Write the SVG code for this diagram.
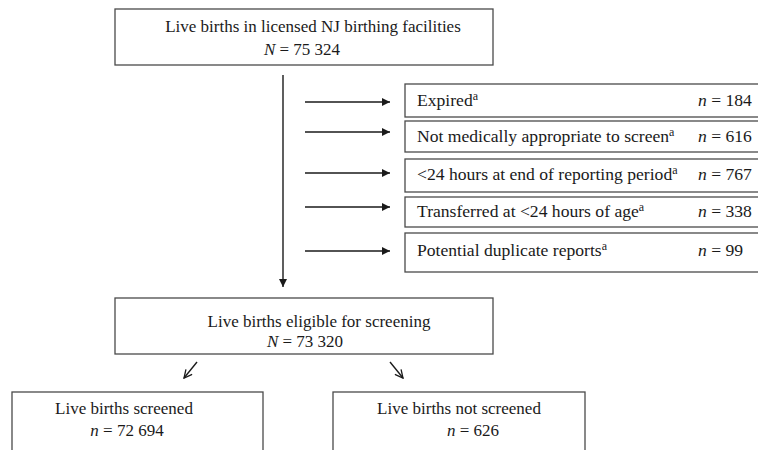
<svg xmlns="http://www.w3.org/2000/svg" width="758" height="450" viewBox="0 0 758 450">
<defs>
<style>
.box{fill:#fff;stroke:#4a4a4a;stroke-width:1.3}
.t{font-family:"Liberation Serif","Times New Roman",serif;font-size:17px;fill:#1a1a1a}
.r{font-size:17.6px}
.c{text-anchor:middle}
.sup{font-size:12px}
.ln{stroke:#1a1a1a;stroke-width:1.4;fill:none}
</style>
<marker id="ah" viewBox="0 0 10 10" refX="10" refY="5" markerWidth="8" markerHeight="8" markerUnits="userSpaceOnUse" orient="auto">
<path d="M0,0 L10,5 L0,10 z" fill="#1a1a1a"/>
</marker>
<marker id="oh" viewBox="0 0 10 10" refX="9" refY="5" markerWidth="10" markerHeight="10" markerUnits="userSpaceOnUse" orient="auto">
<path d="M1,1 L9,5 L1,9" fill="none" stroke="#1a1a1a" stroke-width="1.3"/>
</marker>
</defs>
<rect width="758" height="450" fill="#fff"/>
<g id="top">
<rect class="box" x="115" y="9" width="378" height="56"/>
<text class="t c" x="313" y="32">Live births in licensed NJ birthing facilities</text>
<text class="t c" x="302" y="55"><tspan font-style="italic">N</tspan> = 75 324</text>
</g>
<g id="expired">
<rect class="box" x="405" y="84" width="365" height="33"/>
<text class="t r" x="417" y="106">Expired<tspan class="sup" dy="-6">a</tspan></text>
<text class="t r" x="698" y="106"><tspan font-style="italic">n</tspan> = 184</text>
</g>
<g id="notmed">
<rect class="box" x="405" y="121" width="365" height="31"/>
<text class="t r" x="417" y="142">Not medically appropriate to screen<tspan class="sup" dy="-6">a</tspan></text>
<text class="t r" x="698" y="142"><tspan font-style="italic">n</tspan> = 616</text>
</g>
<g id="lt24">
<rect class="box" x="405" y="159" width="365" height="33"/>
<text class="t r" x="417" y="180">&lt;24 hours at end of reporting period<tspan class="sup" dy="-6">a</tspan></text>
<text class="t r" x="698" y="180"><tspan font-style="italic">n</tspan> = 767</text>
</g>
<g id="transferred">
<rect class="box" x="405" y="197" width="365" height="30"/>
<text class="t r" x="417" y="217">Transferred at &lt;24 hours of age<tspan class="sup" dy="-6">a</tspan></text>
<text class="t r" x="698" y="217"><tspan font-style="italic">n</tspan> = 338</text>
</g>
<g id="duplicate">
<rect class="box" x="405" y="233" width="365" height="39"/>
<text class="t r" x="417" y="256">Potential duplicate reports<tspan class="sup" dy="-6">a</tspan></text>
<text class="t r" x="698" y="256"><tspan font-style="italic">n</tspan> = 99</text>
</g>
<g id="eligible">
<rect class="box" x="115" y="298" width="378" height="56"/>
<text class="t c" x="319" y="327">Live births eligible for screening</text>
<text class="t c" x="305" y="347"><tspan font-style="italic">N</tspan> = 73 320</text>
</g>
<g id="screened">
<rect class="box" x="12" y="392" width="251" height="70"/>
<text class="t c" x="124" y="414">Live births screened</text>
<text class="t c" x="127" y="436"><tspan font-style="italic">n</tspan> = 72 694</text>
</g>
<g id="notscreened">
<rect class="box" x="333" y="392" width="252" height="70"/>
<text class="t c" x="459" y="414">Live births not screened</text>
<text class="t c" x="473" y="436"><tspan font-style="italic">n</tspan> = 626</text>
</g>
<g id="connectors">
<line class="ln" x1="283" y1="75" x2="283" y2="287" marker-end="url(#ah)"/>
<line class="ln" x1="305" y1="102" x2="390" y2="102" marker-end="url(#ah)"/>
<line class="ln" x1="305" y1="132" x2="390" y2="132" marker-end="url(#ah)"/>
<line class="ln" x1="305" y1="173" x2="390" y2="173" marker-end="url(#ah)"/>
<line class="ln" x1="305" y1="207" x2="390" y2="207" marker-end="url(#ah)"/>
<line class="ln" x1="305" y1="251" x2="390" y2="251" marker-end="url(#ah)"/>
<line class="ln" x1="197" y1="362" x2="184" y2="378" marker-end="url(#oh)"/>
<line class="ln" x1="390" y1="362" x2="403" y2="378" marker-end="url(#oh)"/>
</g>
</svg>
